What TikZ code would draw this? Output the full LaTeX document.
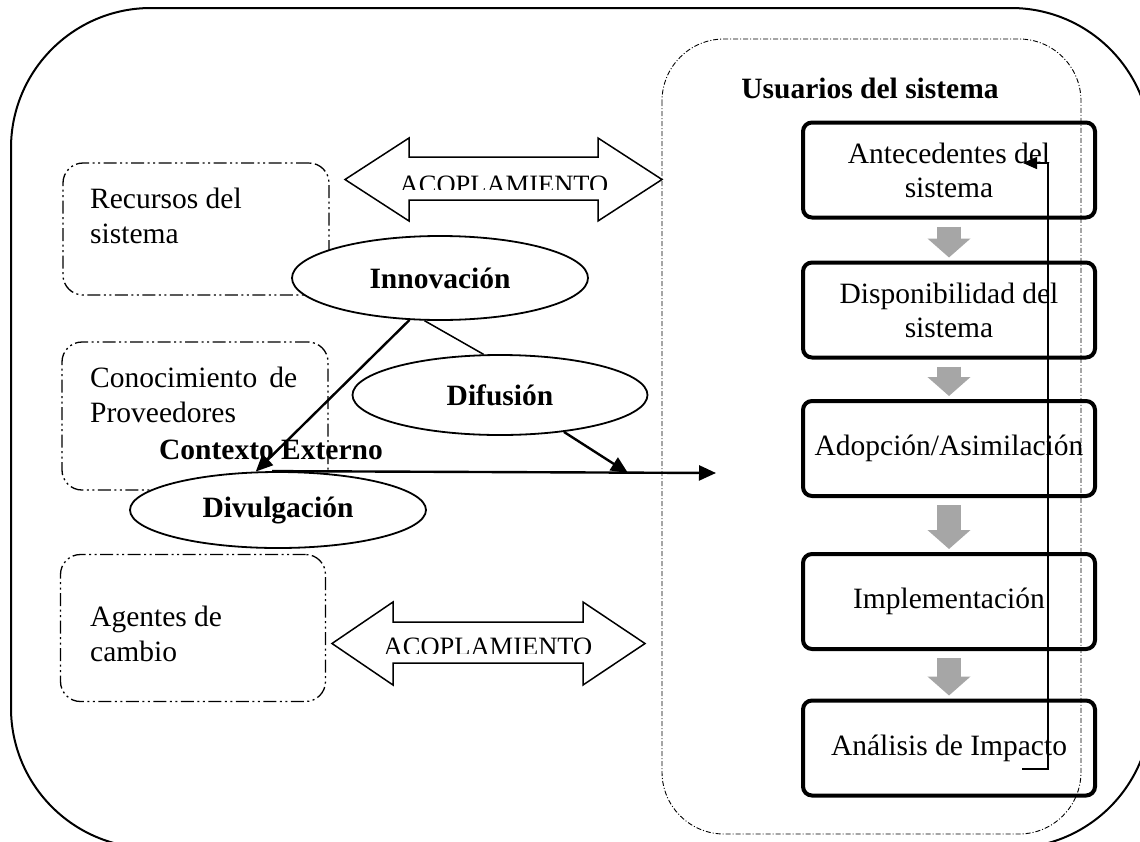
\documentclass[tikz,border=0pt]{standalone}
\usepackage{fontspec}
\setmainfont{Liberation Serif}
\usetikzlibrary{shapes.geometric,arrows.meta}
\definecolor{arrowgray}{RGB}{166,166,166}
\begin{document}
\begin{tikzpicture}[x=1pt,y=-1pt,
  every node/.style={font=\fontsize{29.5}{34}\selectfont, inner sep=0pt},
  outerbox/.style={draw, line width=2pt, rounded corners=140pt},
  region/.style={draw, line width=0.9pt, dash pattern=on 5pt off 2pt on 1pt off 2pt, rounded corners=62pt},
  lbox/.style={draw, line width=1.3pt, rectangle, rounded corners=20pt,
     dash pattern=on 13pt off 3.5pt on 2pt off 3.5pt on 2pt off 3.5pt},
  ltext/.style={anchor=west, align=left, font=\fontsize{29.5}{35}\selectfont},
  ubox/.style={draw, line width=4pt, rectangle, rounded corners=9pt,
     minimum width=292pt, minimum height=95pt, align=center},
  ell/.style={draw, ellipse, line width=1.8pt, fill=white,
     font=\fontsize{29.5}{34}\selectfont\bfseries},
  garrow/.style={draw=arrowgray, line width=24pt, -{Triangle[length=19pt,width=42pt]}},
  dblarrow/.style={draw, line width=1.5pt, fill=white, line join=miter},
  acop/.style={font=\fontsize{26.5}{30}\selectfont, anchor=base},
  mainarrow/.style={draw, line width=2.4pt, -{Triangle[length=17pt,width=15pt]}},
  thinline/.style={draw, line width=1.5pt},
  fbarrow/.style={draw, line width=1.5pt, -{Triangle[length=14pt,width=12pt]}}
]
\useasboundingbox (0,0) rectangle (1140,841);
\clip (0,0) rectangle (1140,841);
\fill[white] (0,0) rectangle (1140,841);

% outer frame and users region
\draw[outerbox] (11,8) rectangle (1151,848);
\draw[region] (662,39) rectangle (1081,834);
\node[font=\fontsize{29.5}{34}\selectfont\bfseries] (usu) at (870,88) {Usuarios del sistema};

% left dashed boxes
\node[lbox, minimum width=266pt, minimum height=132pt] (rec) at (196,229) {};
\node[ltext] (rect) at (90,215.5) {Recursos del\\sistema};
\node[lbox, minimum width=266pt, minimum height=148pt] (con) at (195,416) {};
\node[ltext] (cont) at (90,395) {\hbox to 207pt{Conocimiento\hfill de}\\Proveedores};
\node[lbox, minimum width=265pt, minimum height=147pt] (age) at (193,628) {};
\node[ltext] (aget) at (90,634) {Agentes de\\cambio};

% coupling double arrows
\draw[dblarrow] (345,179.5) -- (409,138) -- (409,157) -- (598,157) -- (598,138)
  -- (662,179.5) -- (598,221) -- (598,200) -- (409,200) -- (409,221) -- cycle;
\begin{scope}
  \clip (395,150) rectangle (615,189);
  \node[acop] (acop1) at (504,193.5) {ACOPLAMIENTO};
\end{scope}
\draw[dblarrow] (332,643.5) -- (393,602) -- (393,622) -- (583,622) -- (583,602)
  -- (645,643.5) -- (583,685) -- (583,663) -- (393,663) -- (393,685) -- cycle;
\begin{scope}
  \clip (380,630) rectangle (600,653);
  \node[acop] (acop2) at (488,655.5) {ACOPLAMIENTO};
\end{scope}

% ellipses
\node[ell, minimum width=296pt, minimum height=84pt] (inn) at (440,278) {Innovación};
\node[ell, minimum width=295pt, minimum height=80pt] (dif) at (500,395) {Difusión};
\node[ell, minimum width=296pt, minimum height=76pt] (div) at (278,510) {Divulgación};

% connectors on the left
\coordinate (dend) at (628,473);
\coordinate (hend) at (716,473);
\draw[mainarrow] (inn.234) -- (div.120);
\draw[thinline] (inn.250) -- (dif.112);
\draw[mainarrow] (dif.330) -- (dend);
\draw[mainarrow] ([xshift=-6pt]div.north) -- (hend);
\node[font=\fontsize{29.5}{34}\selectfont\bfseries] (ctx) at (271,450) {Contexto Externo};

% process boxes
\node[ubox] (b1) at (949,170) {Antecedentes del\\sistema};
\node[ubox] (b2) at (949,310) {Disponibilidad del\\sistema};
\node[ubox] (b3) at (949,448.5) {Adopción/Asimilación};
\node[ubox] (b4) at (949,601.5) {Implementación};
\node[ubox] (b5) at (949,748) {Análisis de Impacto};

\draw[garrow] ([yshift=-7pt]b1.south) -- ([yshift=3pt]b2.north);
\draw[garrow] ([yshift=-7pt]b2.south) -- ([yshift=3pt]b3.north);
\draw[garrow] ([yshift=-7pt]b3.south) -- ([yshift=3pt]b4.north);
\draw[garrow] ([yshift=-7pt]b4.south) -- ([yshift=3pt]b5.north);

% feedback loop
\coordinate (fbs) at (1022,769);
\coordinate (fbc) at (1048,163);
\coordinate (fbe) at (1023,163);
\draw[fbarrow] (fbs) -| (fbc) -- (fbe);
\end{tikzpicture}
\end{document}
